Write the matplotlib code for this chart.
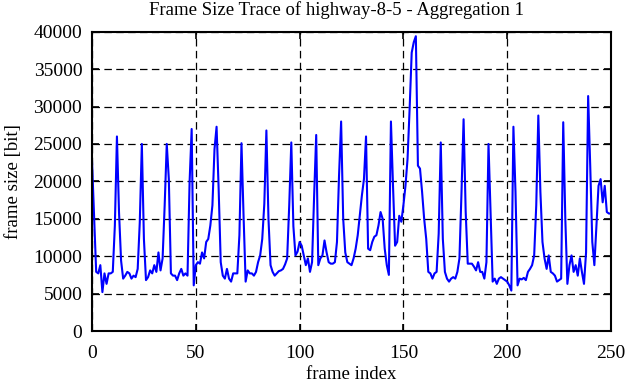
import numpy as np
import matplotlib
matplotlib.use('Agg')
import matplotlib.pyplot as plt

# Frame size trace (bits), frames 0..250
frame_size = [
    22700, 15200, 7900, 7700, 8800, 5200, 7700, 6300, 7700, 7700,   # 0-9
    7900, 14100, 26000, 15900, 9400, 7000, 7400, 7900, 7700, 7000,  # 10-19
    7400, 7200, 8300, 14500, 25000, 12300, 6800, 7200, 8100, 7700,  # 20-29
    8800, 7900, 10500, 8100, 9700, 16800, 25000, 20300, 7700, 7400, # 30-39
    7400, 6800, 7700, 8300, 7400, 7700, 7400, 19900, 27000, 6100,   # 40-49
    8800, 9200, 9000, 10500, 9700, 11900, 12300, 14100, 16800, 24300, # 50-59
    27300, 19000, 9200, 7400, 7000, 8300, 7000, 6600, 7700, 7700,   # 60-69
    7700, 12800, 25100, 15400, 6600, 8100, 7700, 7700, 7400, 7900,  # 70-79
    9200, 10100, 12300, 17000, 26800, 15000, 8800, 7900, 7400, 7700, # 80-89
    8000, 8100, 8300, 8900, 9700, 16800, 25200, 14000, 10100, 10600, # 90-99
    11900, 11400, 10100, 8800, 9700, 7900, 9200, 18100, 26200, 8800, # 100-109
    9700, 10100, 12100, 10500, 9200, 9000, 9000, 9200, 11900, 20800, # 110-119
    28000, 15000, 10500, 9200, 9000, 8800, 9700, 11000, 12800, 15400, # 120-129
    18100, 20300, 26000, 11000, 10800, 11900, 12600, 12800, 14100, 15900, # 130-139
    15000, 11000, 8800, 7500, 28000, 19400, 11400, 11900, 15400, 14600, # 140-149
    16800, 19400, 23000, 29700, 37200, 38600, 39400, 22100, 21700, 18600, # 150-159
    15000, 12300, 7900, 7700, 7000, 7700, 7900, 13000, 25200, 12300, # 160-169
    7900, 7000, 6600, 7000, 7200, 7000, 7900, 9700, 18600, 28300,   # 170-179
    16000, 9000, 9000, 9000, 8600, 8100, 9200, 7900, 7900, 7000,    # 180-189
    9200, 25000, 15900, 6600, 7000, 6300, 7000, 7200, 7000, 6800,   # 190-199
    6600, 6100, 5400, 27300, 18600, 6100, 7000, 6900, 7100, 6800,   # 200-209
    7900, 8300, 8800, 10100, 16800, 28800, 18600, 11900, 9700, 8300, # 210-219
    10100, 7900, 7700, 7400, 6600, 6800, 7000, 27900, 15000, 6300,  # 220-229
    8800, 10100, 7900, 8800, 7400, 9700, 7900, 6300, 10500, 31400,  # 230-239
    22100, 11900, 8800, 14100, 19400, 20300, 17200, 19400, 15900, 15700, # 240-249
    15700,                                                           # 250
]
frame_index = np.arange(len(frame_size))

plt.rcParams['font.family'] = ['Liberation Serif', 'DejaVu Serif']

fig = plt.figure(figsize=(6.26, 3.82), dpi=100)
ax = fig.add_axes([0.147, 0.1335, 0.829, 0.7835])

ax.plot(frame_index, frame_size, color='#0000ff', linewidth=1.5)

ax.set_xlim(0, 250)
ax.set_ylim(0, 40000)
ax.set_xticks(np.arange(0, 251, 50))
ax.set_yticks(np.arange(0, 40001, 5000))
ax.grid(True, color='black', linestyle=(0, (6, 3.5)), linewidth=0.9)
ax.tick_params(direction='in', length=5, width=1.2, top=True, right=True,
               labelsize=14)
ax.tick_params(axis='x', pad=10)
ax.tick_params(axis='y', pad=7)
for spine in ax.spines.values():
    spine.set_linewidth(1.5)

ax.set_title('Frame Size Trace of highway-8-5 - Aggregation 1', fontsize=13.5,
             pad=12, x=0.472)
ax.set_xlabel('frame index', fontsize=13.5, labelpad=3)
ax.set_ylabel('frame size [bit]', fontsize=13.5, labelpad=8)

plt.savefig('out.png', dpi=100)
